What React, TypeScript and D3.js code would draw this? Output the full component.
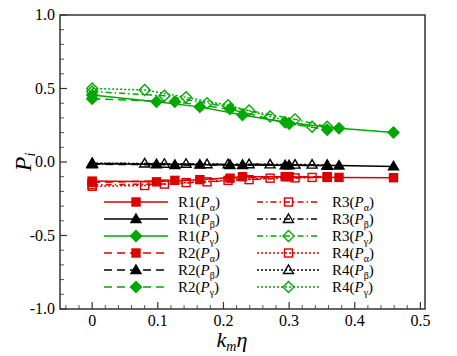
import * as d3 from "d3";

// case names and their x values (k_m * eta)
const cases = ["R1", "R2", "R3", "R4"];
const xR1 = [0, 0.098, 0.164, 0.229, 0.294, 0.376, 0.459];
const xR2 = [0, 0.126, 0.21, 0.3, 0.358];
const xR3 = [0, 0.11, 0.175, 0.239, 0.309, 0.358];
const xR4 = [0, 0.08, 0.143, 0.207, 0.271, 0.335];

// P_alpha
const paR1 = [-0.13, -0.135, -0.12, -0.1, -0.1, -0.105, -0.107];
const paR2 = [-0.14, -0.125, -0.11, -0.1, -0.1];
const paR3 = [-0.155, -0.15, -0.135, -0.12, -0.108, -0.105];
const paR4 = [-0.165, -0.16, -0.14, -0.125, -0.11, -0.105];
// P_beta
const pbR1 = [-0.012, -0.015, -0.018, -0.02, -0.022, -0.024, -0.03];
const pbR2 = [-0.015, -0.02, -0.02, -0.022, -0.025];
const pbR3 = [-0.01, -0.012, -0.015, -0.015, -0.018, -0.02];
const pbR4 = [-0.008, -0.01, -0.012, -0.015, -0.016, -0.018];
// P_gamma
const pgR1 = [0.455, 0.41, 0.375, 0.32, 0.27, 0.23, 0.2];
const pgR2 = [0.43, 0.41, 0.36, 0.26, 0.22];
const pgR3 = [0.48, 0.45, 0.4, 0.35, 0.29, 0.24];
const pgR4 = [0.5, 0.49, 0.44, 0.386, 0.31, 0.24];

const xTicks = [0, 0.1, 0.2, 0.3, 0.4, 0.5];
const yTicks = [-1, -0.5, 0, 0.5, 1];

const RED = "#dd0000";
const GREEN = "#00a800";
const BLACK = "#000";
const FONT = "'Liberation Serif', 'Times New Roman', Times, serif";

type Series = { name: string; comp: string; xs: number[]; ys: number[]; color: string; shape: string; filled: boolean; dash: string };

const dashes: Record<string, string> = { R1: "none", R2: "8,5", R3: "6,3,1.5,3", R4: "2,2" };
const xs: Record<string, number[]> = { R1: xR1, R2: xR2, R3: xR3, R4: xR4 };
const comps = [
  { comp: "α", color: RED, shape: "square", vals: { R1: paR1, R2: paR2, R3: paR3, R4: paR4 } as Record<string, number[]> },
  { comp: "β", color: BLACK, shape: "triangle", vals: { R1: pbR1, R2: pbR2, R3: pbR3, R4: pbR4 } as Record<string, number[]> },
  { comp: "γ", color: GREEN, shape: "diamond", vals: { R1: pgR1, R2: pgR2, R3: pgR3, R4: pgR4 } as Record<string, number[]> },
];

const series: Series[] = [];
cases.forEach((c) => {
  comps.forEach((p) => {
    series.push({
      name: c, comp: p.comp, xs: xs[c], ys: p.vals[c], color: p.color, shape: p.shape,
      filled: c === "R1" || c === "R2", dash: dashes[c],
    });
  });
});

function Marker({ x, y, s }: { x: number; y: number; s: Series }) {
  const fill = s.filled ? s.color : "none";
  const sw = 1.4;
  if (s.shape === "square") {
    return <rect x={x - 4} y={y - 4} width={8} height={8} fill={fill} stroke={s.color} strokeWidth={sw} />;
  }
  if (s.shape === "triangle") {
    return <path d={`M${x},${y - 5}L${x + 5},${y + 3.5}L${x - 5},${y + 3.5}Z`} fill={fill} stroke={s.color} strokeWidth={sw} />;
  }
  return <path d={`M${x},${y - 5.5}L${x + 5.5},${y}L${x},${y + 5.5}L${x - 5.5},${y}Z`} fill={fill} stroke={s.color} strokeWidth={sw} />;
}

export default function App() {
  const W = 457, H = 356;
  const left = 60, right = 425, top = 15, bottom = 309;
  const x = d3.scaleLinear().domain([-0.049, 0.507]).range([left, right]);
  const y = d3.scaleLinear().domain([-1, 1]).range([bottom, top]);
  const line = d3.line<[number, number]>().x((d) => x(d[0])).y((d) => y(d[1]));

  const xMinor = d3.range(-0.04, 0.5001, 0.02).filter((v) => Math.abs(v * 10 - Math.round(v * 10)) > 0.01);
  const yMinor = d3.range(-0.9, 0.95, 0.1).filter((v) => Math.abs(v * 2 - Math.round(v * 2)) > 0.01);

  const legendRows = [202, 219, 236, 253, 270, 287];
  const legendItems = series.map((s, i) => {
    const col = i < 6 ? 0 : 1;
    const row = i % 6;
    return { s, col, yy: legendRows[row] };
  });

  return (
    <svg width={W} height={H} style={{ position: "absolute", left: 0, top: 0 }}>
      <rect width={W} height={H} fill="#fff" />
      {/* data */}
      {series.map((s, i) => {
        const pts: [number, number][] = s.xs.map((v, j) => [v, s.ys[j]]);
        return (
          <g key={i}>
            <path d={line(pts) || ""} fill="none" stroke={s.color} strokeWidth={1.5} strokeDasharray={s.dash} />
            {pts.map((p, j) => (
              <Marker key={j} x={x(p[0])} y={y(p[1])} s={s} />
            ))}
          </g>
        );
      })}
      {/* legend */}
      {legendItems.map(({ s, col, yy }, i) => {
        const x0 = col === 0 ? 104 : 257;
        const x1 = col === 0 ? 168 : 320;
        const tx = col === 0 ? 178 : 332;
        return (
          <g key={"lg" + i}>
            <line x1={x0} x2={x1} y1={yy} y2={yy} stroke={s.color} strokeWidth={1.5} strokeDasharray={s.dash} />
            <Marker x={(x0 + x1) / 2} y={yy} s={s} />
            <text x={tx} y={yy + 5} fontSize={15} fill="#000" style={{ fontFamily: FONT }}>
              {s.name}(<tspan fontStyle="italic">P</tspan>
              <tspan fontSize={10} dy={4}>{s.comp}</tspan>
              <tspan dy={-4}>)</tspan>
            </text>
          </g>
        );
      })}
      {/* ticks */}
      {xTicks.map((t) => (
        <g key={"xt" + t}>
          <line x1={x(t)} x2={x(t)} y1={bottom} y2={bottom - 7} stroke="#333" strokeWidth={1.2} />
          <text x={x(t)} y={bottom + 17} fontSize={16} textAnchor="middle" style={{ fontFamily: FONT }}>{t === 0 ? "0" : t.toFixed(1)}</text>
        </g>
      ))}
      {xMinor.map((t, i) => (
        <line key={"xm" + i} x1={x(t)} x2={x(t)} y1={bottom} y2={bottom - 4} stroke="#555" strokeWidth={1} />
      ))}
      {yTicks.map((t) => (
        <g key={"yt" + t}>
          <line x1={left} x2={left + 7} y1={y(t)} y2={y(t)} stroke="#333" strokeWidth={1.2} />
          <text x={left - 5} y={y(t) + 5} fontSize={16} textAnchor="end" style={{ fontFamily: FONT }}>{t.toFixed(1)}</text>
        </g>
      ))}
      {yMinor.map((t, i) => (
        <line key={"ym" + i} x1={left} x2={left + 4} y1={y(t)} y2={y(t)} stroke="#555" strokeWidth={1} />
      ))}
      {/* frame */}
      <rect x={left} y={top} width={right - left} height={bottom - top} fill="none" stroke="#333" strokeWidth={1.5} />
      {/* axis titles */}
      <text x={232} y={347} fontSize={22} textAnchor="middle" style={{ fontFamily: FONT }}>
        <tspan fontStyle="italic">k</tspan>
        <tspan fontSize={14} dy={4} fontStyle="italic">m</tspan>
        <tspan dy={-4} fontStyle="italic">η</tspan>
      </text>
      <text transform="translate(31,162) rotate(-90)" fontSize={24} textAnchor="middle" style={{ fontFamily: FONT }}>
        <tspan fontStyle="italic">P</tspan>
        <tspan fontSize={14} dy={4} fontStyle="italic">i</tspan>
      </text>
    </svg>
  );
}
